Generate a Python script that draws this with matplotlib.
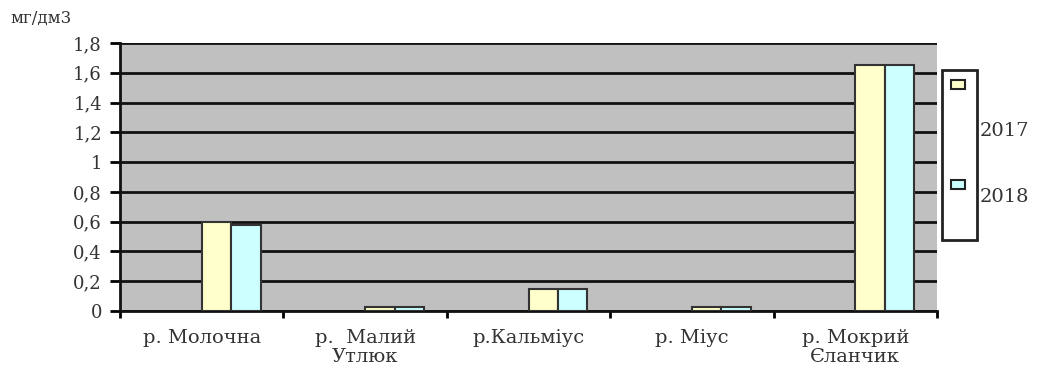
import numpy as np
import matplotlib.pyplot as plt
from matplotlib.patches import Rectangle

rivers = ['р. Молочна', 'р.  Малий\nУтлюк', 'р.Кальміус', 'р. Міус', 'р. Мокрий\nЄланчик']
v2017 = [0.60, 0.03, 0.15, 0.03, 1.65]
v2018 = [0.58, 0.03, 0.15, 0.03, 1.65]
yticks = [0, 0.2, 0.4, 0.6, 0.8, 1.0, 1.2, 1.4, 1.6, 1.8]
years = ['2017', '2018']
colors = ['#FFFFCC', '#CCFFFF']

plt.rcParams['font.family'] = ['DejaVu Serif', 'Liberation Serif']

fig = plt.figure(figsize=(10.37, 3.67), dpi=100)
ax = fig.add_axes([120/1037, 56/367, 817/1037, 268/367])
ax.set_facecolor('#C0C0C0')

x = np.arange(len(rivers))
w = 0.18
ax.bar(x + w/2, v2017, w, color=colors[0], edgecolor='#333333', linewidth=1.5, zorder=3)
ax.bar(x + 1.5*w, v2018, w, color=colors[1], edgecolor='#333333', linewidth=1.5, zorder=3)

ax.set_xlim(-0.5, len(rivers) - 0.5)
ax.set_ylim(0, 1.8)
ax.set_yticks(yticks)
ax.set_yticklabels([('%g' % t).replace('.', ',') for t in yticks], fontsize=13, color='#333333')
ax.yaxis.grid(True, color='#111111', linewidth=2)
ax.set_axisbelow(True)

ax.set_xticks(np.arange(len(rivers) + 1) - 0.5)
ax.set_xticklabels([])
ax.set_xticks(x, minor=True)
ax.set_xticklabels(rivers, minor=True, fontsize=14, color='#333333', linespacing=1.05)
ax.tick_params(axis='x', which='minor', length=0, pad=13)
ax.tick_params(axis='x', which='major', length=5, width=2)
ax.tick_params(axis='y', length=7, width=2, pad=6)

for s in ['top', 'right']:
    ax.spines[s].set_visible(False)
for s in ['left', 'bottom']:
    ax.spines[s].set_linewidth(2)
    ax.spines[s].set_color('#111111')

fig.text(10/1037, 1 - 18/367, 'мг/дм3', fontsize=12, color='#333333', va='center')

# legend drawn Excel style: box with swatches, labels outside
fig.patches.append(Rectangle((942/1037, 1 - 240/367), 35/1037, 170/367, transform=fig.transFigure,
                             facecolor='white', edgecolor='#222222', linewidth=2))
for yy, c, lab, ty in zip([85, 185], colors, years, [131, 197]):
    fig.patches.append(Rectangle((951/1037, 1 - (yy + 4)/367), 14/1037, 9/367, transform=fig.transFigure,
                                 facecolor=c, edgecolor='#222222', linewidth=1.5))
    fig.text(980/1037, 1 - ty/367, lab, fontsize=14, color='#333333', va='center')

fig.savefig('out.png', dpi=100)
